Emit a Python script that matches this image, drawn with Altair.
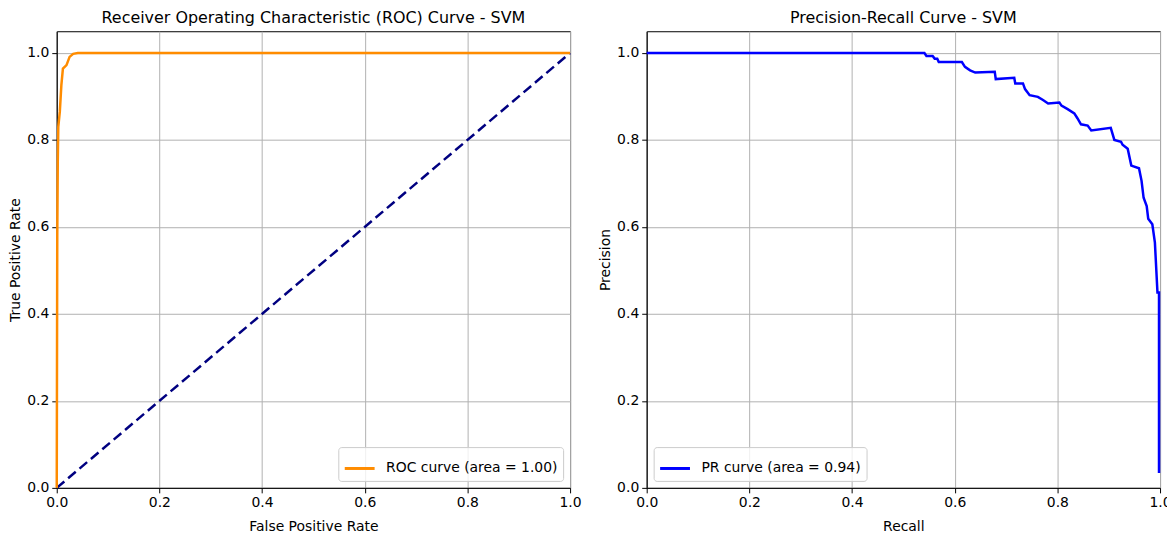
import altair as alt
import pandas as pd

# ROC curve (SVM)
roc_fpr = [0.0, 0.001, 0.002, 0.003, 0.006, 0.009, 0.012, 0.019, 0.025, 0.032, 0.041, 1.0]
roc_tpr = [0.0, 0.58, 0.75, 0.83, 0.865, 0.926, 0.964, 0.972, 0.991, 0.998, 1.0, 1.0]
roc_label = "ROC curve (area = 1.00)"

diag_x = [0.0, 1.0]
diag_y = [0.0, 1.0]

# Precision-Recall curve (SVM)
pr_recall = [0.0, 0.541, 0.545, 0.557, 0.561, 0.566, 0.569, 0.575, 0.614, 0.620, 0.630,
             0.640, 0.678, 0.680, 0.716, 0.718, 0.733, 0.737, 0.746, 0.762, 0.772, 0.782,
             0.804, 0.808, 0.820, 0.833, 0.839, 0.846, 0.859, 0.866, 0.904, 0.911, 0.924,
             0.927, 0.937, 0.944, 0.959, 0.964, 0.968, 0.974, 0.977, 0.985, 0.990, 0.995,
             0.998, 0.998]
pr_precision = [1.0, 1.0, 0.993, 0.993, 0.987, 0.987, 0.979, 0.979, 0.979, 0.968, 0.960,
                0.955, 0.957, 0.940, 0.943, 0.930, 0.930, 0.917, 0.903, 0.899, 0.892, 0.884,
                0.886, 0.879, 0.871, 0.861, 0.850, 0.836, 0.833, 0.822, 0.828, 0.800, 0.796,
                0.789, 0.780, 0.741, 0.735, 0.706, 0.667, 0.648, 0.619, 0.606, 0.564, 0.449,
                0.449, 0.034]
pr_label = "PR curve (area = 0.94)"

ticks = [0.0, 0.2, 0.4, 0.6, 0.8, 1.0]

roc_df = pd.DataFrame({"x": roc_fpr, "y": roc_tpr, "i": range(len(roc_fpr)), "s": roc_label})
diag_df = pd.DataFrame({"x": diag_x, "y": diag_y})
pr_df = pd.DataFrame({"x": pr_recall, "y": pr_precision, "i": range(len(pr_recall)), "s": pr_label})

W, H = 516, 459
FONT = "DejaVu Sans"


def xaxis(title):
    return alt.X("x:Q", title=title, scale=alt.Scale(domain=[0, 1], nice=False, zero=False),
                 axis=alt.Axis(values=ticks, format=".1f", labelFlush=False, titlePadding=10))


def yaxis(title):
    return alt.Y("y:Q", title=title, scale=alt.Scale(domain=[0, 1.05], nice=False, zero=False),
                 axis=alt.Axis(values=ticks, format=".1f", titlePadding=4))


def legend(orient):
    return alt.Legend(title=None, orient=orient, offset=7, padding=5, labelLimit=400,
                      strokeColor="#cccccc", fillColor="rgba(255,255,255,0.8)", cornerRadius=3,
                      symbolType="stroke", symbolSize=900, symbolStrokeWidth=3,
                      labelFontSize=14, labelFont=FONT, labelColor="black", labelOffset=10)


roc_line = alt.Chart(roc_df).mark_line(strokeWidth=2.5).encode(
    x=xaxis("False Positive Rate"),
    y=yaxis("True Positive Rate"),
    order="i:Q",
    color=alt.Color("s:N", scale=alt.Scale(domain=[roc_label], range=["darkorange"]),
                    legend=legend("bottom-right")),
)
diag_line = alt.Chart(diag_df).mark_line(strokeWidth=2.5, strokeDash=[10, 5], color="navy").encode(
    x="x:Q", y="y:Q"
)
left = alt.layer(diag_line, roc_line).properties(
    width=W, height=H,
    title=alt.TitleParams("Receiver Operating Characteristic (ROC) Curve - SVM"),
)

pr_line = alt.Chart(pr_df).mark_line(strokeWidth=2.5).encode(
    x=xaxis("Recall"),
    y=yaxis("Precision"),
    order="i:Q",
    color=alt.Color("s:N", scale=alt.Scale(domain=[pr_label], range=["blue"]),
                    legend=legend("bottom-left")),
)
right = pr_line.properties(
    width=W, height=H,
    title=alt.TitleParams("Precision-Recall Curve - SVM"),
)

chart = alt.hconcat(left, right, spacing=16).resolve_scale(color="independent").resolve_legend(
    color="independent"
).properties(
    padding={"left": 0, "top": 0, "right": -5, "bottom": -3},
).configure(
    font=FONT
).configure_view(
    stroke="black", strokeWidth=1
).configure_axis(
    labelFont=FONT, titleFont=FONT, labelFontSize=14, titleFontSize=14,
    labelColor="black", titleColor="black", titleFontWeight="normal",
    domainColor="black", tickColor="black", tickSize=5, domainWidth=1,
    gridColor="#b0b0b0", gridWidth=1, labelPadding=3,
).configure_title(
    font=FONT, fontSize=16, fontWeight="normal", color="black", offset=5, anchor="middle"
)

chart.save("out.html", embed_options={"renderer": "svg", "actions": False})
